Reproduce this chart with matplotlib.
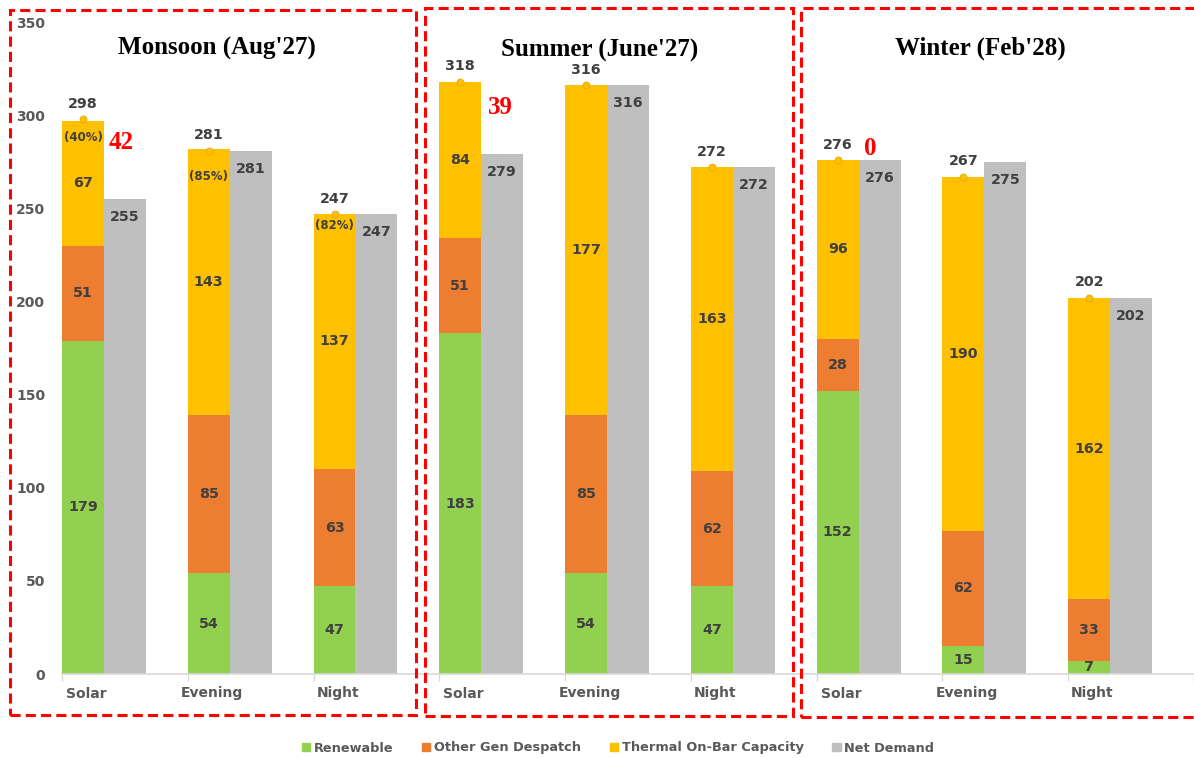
import matplotlib
matplotlib.use("Agg")
import matplotlib.pyplot as plt
from matplotlib.patches import Rectangle, Patch
import numpy as np

# ---- data ----
seasons = ["Monsoon (Aug'27)", "Summer (June'27)", "Winter (Feb'28)"]
periods = ["Solar", "Evening", "Night"]
renewable = [179, 54, 47, 183, 54, 47, 152, 15, 7]
other_gen = [51, 85, 63, 51, 85, 62, 28, 62, 33]
thermal = [67, 143, 137, 84, 177, 163, 96, 190, 162]
totals = [298, 281, 247, 318, 316, 272, 276, 267, 202]
net_demand = [255, 281, 247, 279, 316, 272, 276, 275, 202]
thermal_pct = {0: "(40%)", 1: "(85%)", 2: "(82%)"}
pct_y = {0: 288, 1: 267, 2: 240.5}
surplus = {0: 42, 3: 39, 6: 0}
surplus_y = {0: 285.5, 3: 304, 6: 282}
surplus_dx = {0: 0.135, 3: 0.15, 6: 0.095}

c_green = "#92D050"
c_orange = "#ED7D31"
c_yellow = "#FFC000"
c_grey = "#BFBFBF"
c_label = "#404040"
c_tick = "#595959"

W, H = 1194, 758
fig = plt.figure(figsize=(W / 100, H / 100), dpi=100)
px_per_unit = 126.0
ax_left, ax_right, ax_bottom, ax_top = 62, 1194, 674, 22
ax = fig.add_axes([ax_left / W, 1 - ax_bottom / H, (ax_right - ax_left) / W, (ax_bottom - ax_top) / H])

sans = "DejaVu Sans"
serif = "Liberation Serif"

x = np.arange(len(renewable))
bw = 42 / px_per_unit
xs = x - bw / 2
xg = x + bw / 2

r = np.array(renewable)
o = np.array(other_gen)
t = np.array(thermal)

ax.bar(xs, r, bw, color=c_green, linewidth=0, zorder=2)
ax.bar(xs, o, bw, bottom=r, color=c_orange, linewidth=0, zorder=2)
ax.bar(xs, t, bw, bottom=r + o, color=c_yellow, linewidth=0, zorder=2)
ax.bar(xg, net_demand, bw, color=c_grey, linewidth=0, zorder=2)

# total markers
ax.plot(xs, totals, linestyle="none", marker="o", ms=5, mfc=c_yellow, mec="#E0A800", mew=0.6, zorder=3)

lab_kw = dict(ha="center", va="center", fontsize=10.3, fontweight="bold", color=c_label, family=sans, zorder=4)

for i in range(len(x)):
    # segment labels
    ax.text(xs[i], r[i] / 2, str(r[i]), **lab_kw)
    ax.text(xs[i], r[i] + o[i] / 2, str(o[i]), **lab_kw)
    ax.text(xs[i], r[i] + o[i] + t[i] / 2, str(t[i]), **lab_kw)
    # total above
    ax.annotate(str(totals[i]), (xs[i], totals[i]), xytext=(0, 11), textcoords="offset points", **lab_kw)
    # net demand inside top
    ax.annotate(str(net_demand[i]), (xg[i], net_demand[i]), xytext=(0, -13), textcoords="offset points", **lab_kw)

for i, s in thermal_pct.items():
    ax.text(xs[i], pct_y[i], s, ha="center", va="center", fontsize=8.5, fontweight="bold",
            color=c_label, family=sans, zorder=4)

for i, v in surplus.items():
    ax.text(x[i] + surplus_dx[i], surplus_y[i], str(v), ha="center", va="center", fontsize=18,
            fontweight="bold", color="#FF0000", family=serif, zorder=4)

# axes styling
ax.set_ylim(0, 350)
ax.set_xlim(-bw, -bw + (ax_right - ax_left) / px_per_unit)
ax.set_yticks(np.arange(0, 351, 50))
ax.tick_params(axis="y", length=0, pad=12, labelsize=10, labelcolor=c_tick)
for lbl in ax.get_yticklabels():
    lbl.set_fontweight("bold")
    lbl.set_family(sans)

ax.set_xticks(x - 0.14)
ax.set_xticklabels(periods * 3)
ax.tick_params(axis="x", length=0, pad=9, labelsize=10, labelcolor=c_tick)
for lbl in ax.get_xticklabels():
    lbl.set_fontweight("bold")
    lbl.set_family(sans)
ax.set_xticks(np.arange(len(x) + 1) - bw, minor=True)
ax.tick_params(axis="x", which="minor", length=5, width=1, color="#D9D9D9")

for sp in ["top", "right", "left"]:
    ax.spines[sp].set_visible(False)
ax.spines["bottom"].set_color("#D9D9D9")
ax.spines["bottom"].set_linewidth(1.2)

# season titles
title_pos = [(217, 48), (600, 50), (980, 48)]
for s, (tx, ty) in zip(seasons, title_pos):
    fig.text(tx / W, 1 - ty / H, s, ha="center", va="center", fontsize=18, fontweight="bold",
             family=serif, color="black")

# dashed season frames
frames = [(10, 10, 416, 715), (425, 8, 793, 716), (801, 8, 1200, 717)]
for (l, tp, rt, bt) in frames:
    fig.patches.append(Rectangle((l / W, 1 - bt / H), (rt - l) / W, (bt - tp) / H,
                                 transform=fig.transFigure, fill=False, edgecolor="#FF0000",
                                 linewidth=2.2, linestyle=(0, (3.3, 1.7)), zorder=5))

# legend
handles = [Patch(color=c_green, label="Renewable"),
           Patch(color=c_orange, label="Other Gen Despatch"),
           Patch(color=c_yellow, label="Thermal On-Bar Capacity"),
           Patch(color=c_grey, label="Net Demand")]
leg = fig.legend(handles=handles, loc="center", bbox_to_anchor=(618 / W, 1 - 748 / H), ncol=4,
                 frameon=False, handlelength=0.65, handleheight=0.65, handletextpad=0.3,
                 columnspacing=2.2, prop={"family": sans, "weight": "bold", "size": 9.3})
for txt in leg.get_texts():
    txt.set_color(c_tick)

fig.savefig("out.png", dpi=100)
